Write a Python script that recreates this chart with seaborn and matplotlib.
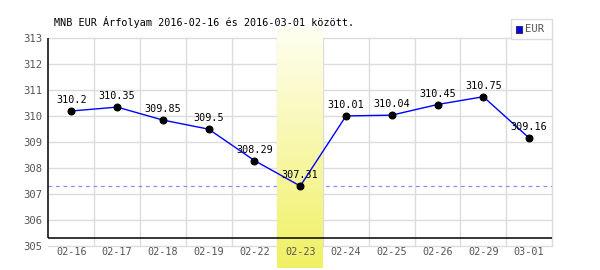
import numpy as np
import pandas as pd
import seaborn as sns
import matplotlib
matplotlib.use("Agg")
import matplotlib.pyplot as plt
from matplotlib.patches import Rectangle

# ---- data ----
dates = ["02-16", "02-17", "02-18", "02-19", "02-22", "02-23",
         "02-24", "02-25", "02-26", "02-29", "03-01"]
rates = [310.2, 310.35, 309.85, 309.5, 308.29, 307.31,
         310.01, 310.04, 310.45, 310.75, 309.16]
value_labels = ["310.2", "310.35", "309.85", "309.5", "308.29", "307.31",
                "310.01", "310.04", "310.45", "310.75", "309.16"]
y_ticks = [305, 306, 307, 308, 309, 310, 311, 312, 313]
title = "MNB EUR Árfolyam 2016-02-16 és 2016-03-01 között."
series_name = "EUR"
highlight = "02-23"

sns.set_theme(style="white")
plt.rcParams["font.family"] = ["DejaVu Sans Mono", "DejaVu Sans"]

W, H = 600, 270
fig = plt.figure(figsize=(6, 2.7), dpi=100)
L, R, T, B = 48.5, 552, 38.3, 246
ax = fig.add_axes([L / W, 1 - B / H, (R - L) / W, (B - T) / H])
ax.set_axisbelow(False)

df = pd.DataFrame({"pos": np.arange(len(dates)), "rate": rates})
n = len(dates)
ymin, ymax = y_ticks[0], y_ticks[-1]

# grid
for yv in y_ticks:
    ax.axhline(yv, color="#dcdcdc", lw=1, zorder=0.5, clip_on=False)
for k in range(1, n + 1):
    ax.axvline(k - 0.5, color="#dcdcdc", lw=1, zorder=0.5, clip_on=False)

# min dashed line
ax.axhline(min(rates), color="#8c8cff", lw=0.9, ls=(0, (3, 3)), zorder=0.6)

# highlight band (gradient)
hi = dates.index(highlight)
py = (B - T) / (ymax - ymin)
top_v = ymax + (T - 28) / py
bot_v = ymin - (268 - B) / py
grad = np.linspace(0, 1, 256).reshape(-1, 1)
c_top = np.array([255, 255, 242]) / 255
c_bot = np.array([240, 240, 100]) / 255
img = c_top[None, None, :] * (1 - grad[:, :, None]) + c_bot[None, None, :] * grad[:, :, None]
ax.imshow(img, extent=[hi - 0.5, hi + 0.5, bot_v, top_v], origin="upper",
          aspect="auto", zorder=0.8, clip_on=False, interpolation="bilinear")

# series
sns.lineplot(data=df, x="pos", y="rate", ax=ax, color="#0000ff", lw=1,
             marker="o", markersize=5, markerfacecolor="black",
             markeredgecolor="black", zorder=4, legend=False)

for i, (v, lab) in enumerate(zip(rates, value_labels)):
    ax.annotate(lab, (i, v), xytext=(0, 11), textcoords="offset pixels",
                ha="center", va="center", fontsize=7.3, color="black", zorder=5)

# black axis lines
axis_y = ymin + (B - 238) / py
ax.plot([-0.5, n - 0.5], [axis_y, axis_y], color="black", lw=1.1, zorder=3,
        clip_on=False, solid_capstyle="butt")
ax.plot([-0.5, -0.5], [axis_y, ymax], color="black", lw=1.1, zorder=3,
        clip_on=False, solid_capstyle="butt")

ax.set_xlim(-0.5, n - 0.5)
ax.set_ylim(ymin, ymax)
ax.set_xticks(range(n))
ax.set_xticklabels(dates)
ax.set_yticks(y_ticks)
ax.set_yticklabels([str(t) for t in y_ticks])
ax.tick_params(axis="x", length=0, pad=1, labelsize=7.3, labelcolor="#555555")
ax.tick_params(axis="y", length=0, pad=4.5, labelsize=7.6, labelcolor="#555555")
ax.set_xlabel("")
ax.set_ylabel("")
for s in ax.spines.values():
    s.set_visible(False)
ax.patch.set_alpha(0)

# title
fig.text(54 / W, 1 - 22 / H, title, ha="left", va="center", fontsize=7.3, color="black")

# legend box
fig.add_artist(Rectangle((511 / W, 1 - 39 / H), 41 / W, 20 / H, transform=fig.transFigure,
                         facecolor="white", edgecolor="#dcdcdc", lw=1, zorder=6))
fig.add_artist(Rectangle((516 / W, 1 - 32.5 / H), 6 / W, 6 / H, transform=fig.transFigure,
                         facecolor="#0000ff", edgecolor="#333355", lw=0.8, zorder=7))
fig.text(524.5 / W, 1 - 29.5 / H, series_name, ha="left", va="center", fontsize=7.6,
         color="#555555", zorder=7)

fig.savefig("out.png", dpi=100)
